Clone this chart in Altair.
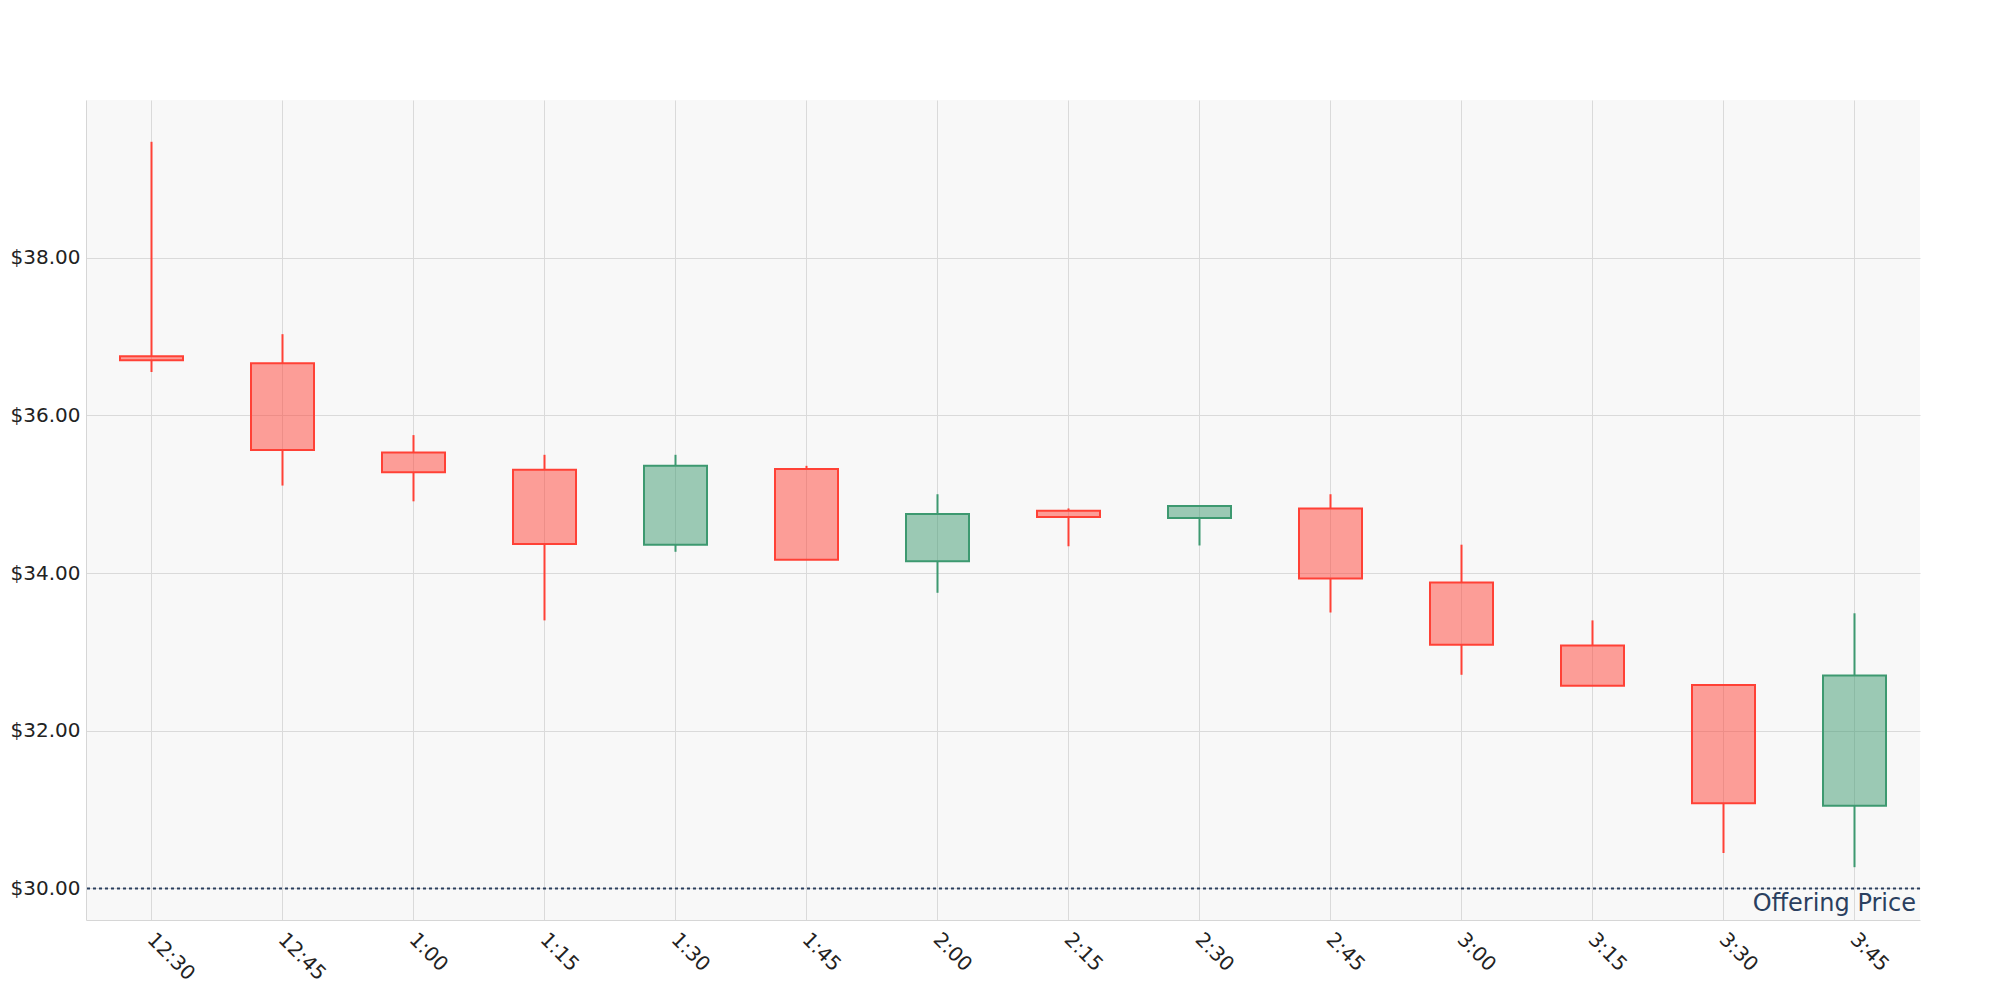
import altair as alt
import pandas as pd

times = ["12:30", "12:45", "1:00", "1:15", "1:30", "1:45", "2:00",
         "2:15", "2:30", "2:45", "3:00", "3:15", "3:30", "3:45"]
open_ = [36.75, 36.66, 35.53, 35.31, 34.36, 35.32, 34.15, 34.79, 34.70, 34.82, 33.88, 33.08, 32.58, 31.05]
close = [36.70, 35.56, 35.28, 34.37, 35.36, 34.17, 34.75, 34.71, 34.85, 33.93, 33.09, 32.57, 31.08, 32.70]
high = [39.47, 37.03, 35.75, 35.50, 35.50, 35.36, 35.00, 34.82, 34.85, 35.00, 34.36, 33.40, 32.58, 33.49]
low = [36.55, 35.11, 34.91, 33.40, 34.27, 34.17, 33.75, 34.34, 34.35, 33.50, 32.71, 32.57, 30.45, 30.27]
offering_price = 30.0
offering_label = "Offering Price"
y_ticks = [30, 32, 34, 36, 38]

df = pd.DataFrame({"time": times, "open": open_, "close": close, "high": high, "low": low})
df["top"] = df[["open", "close"]].max(axis=1)
df["bottom"] = df[["open", "close"]].min(axis=1)
df["dir"] = ["up" if c > o else "down" for o, c in zip(df["open"], df["close"])]

W, H = 1834, 820
RED, GREEN = "#FF4136", "#3D9970"
color_scale = alt.Scale(domain=["up", "down"], range=[GREEN, RED])

x_enc = alt.X("time:N", sort=times, title=None,
              scale=alt.Scale(paddingInner=0, paddingOuter=0),
              axis=alt.Axis(labelAngle=45, bandPosition=0.5, ticks=False,
                            labelPadding=9, labelOffset=6, labelFontSize=20, labelFont="DejaVu Sans",
                            labelColor="#222222", grid=True, gridColor="#dadada",
                            domainColor="#d6d6d6", labelAlign="left", labelBaseline="top"))
y_scale = alt.Scale(domain=[29.6, 40], nice=False, zero=False)
y_axis = alt.Axis(values=y_ticks, format="$.2f", ticks=False, labelPadding=6,
                  labelFontSize=20, labelFont="DejaVu Sans", labelColor="#222222",
                  grid=True, gridColor="#dadada", domainColor="#d6d6d6")

base = alt.Chart(df)

upper = base.mark_rule(strokeWidth=2).encode(
    x=x_enc,
    y=alt.Y("high:Q", scale=y_scale, axis=y_axis, title=None),
    y2="top:Q",
    color=alt.Color("dir:N", scale=color_scale, legend=None),
)
lower = base.mark_rule(strokeWidth=2).encode(
    x=alt.X("time:N", sort=times),
    y=alt.Y("bottom:Q"),
    y2="low:Q",
    color=alt.Color("dir:N", scale=color_scale, legend=None),
)
body = base.mark_bar(size=63, fillOpacity=0.5, strokeWidth=2).encode(
    x=alt.X("time:N", sort=times),
    y=alt.Y("open:Q"),
    y2="close:Q",
    fill=alt.Fill("dir:N", scale=color_scale, legend=None),
    stroke=alt.Stroke("dir:N", scale=color_scale, legend=None),
)

ref = alt.Chart(pd.DataFrame({"price": [offering_price]})).mark_rule(
    color="#2a3f5f", strokeWidth=2, strokeDash=[3, 3]
).encode(y="price:Q")

label = alt.Chart(pd.DataFrame({"price": [offering_price], "label": [offering_label]})).mark_text(
    align="right", baseline="top", dy=4, fontSize=24, font="DejaVu Sans", color="#2a3f5f"
).encode(y="price:Q", x=alt.value(W - 4), text="label:N")

chart = alt.layer(upper, lower, body, ref, label).properties(
    width=W, height=H,
    background="white",
    autosize=alt.AutoSizeParams(type="none"),
    padding={"left": 86, "top": 100, "right": 80, "bottom": 80},
).configure_view(fill="#f8f8f8", stroke=None)

chart.save("out.html", embed_options={"renderer": "svg", "actions": False})
